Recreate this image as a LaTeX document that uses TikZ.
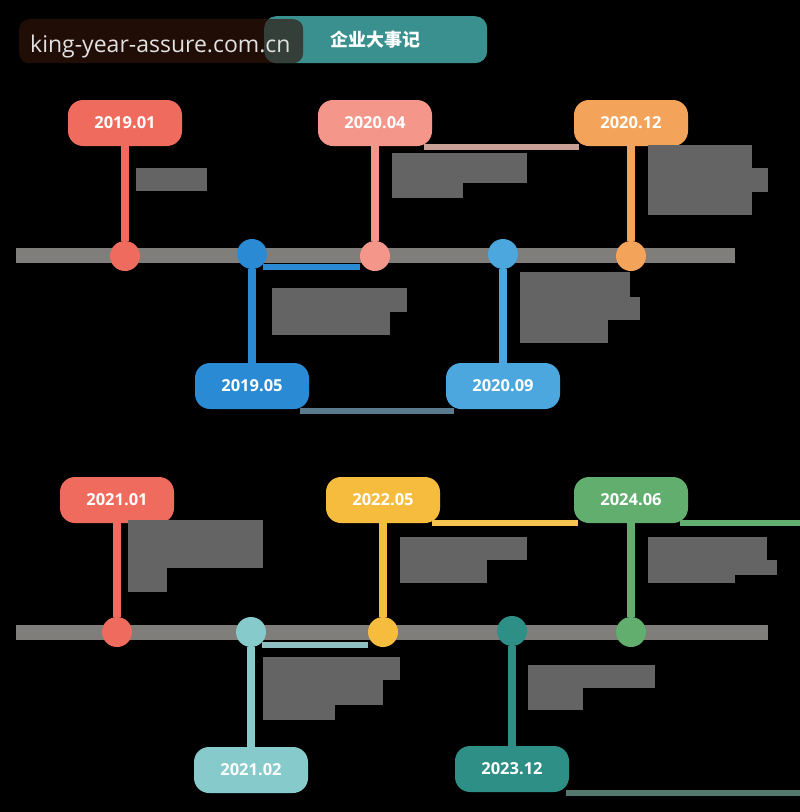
\documentclass[tikz,border=0pt]{standalone}
\usepackage{fontspec}
\setmainfont{Open Sans}
\newfontfamily\cjk{Noto Sans CJK SC}
\pgfdeclarelayer{back}
\pgfdeclarelayer{mid}
\pgfsetlayers{back,mid,main}
\definecolor{redA}{HTML}{EF6B5E}
\definecolor{blueA}{HTML}{2A8AD4}
\definecolor{salmonA}{HTML}{F4978A}
\definecolor{skyA}{HTML}{4BA7DD}
\definecolor{orangeA}{HTML}{F4A35A}
\definecolor{mintA}{HTML}{86CACB}
\definecolor{yellowA}{HTML}{F6BC3E}
\definecolor{tealA}{HTML}{2E8F86}
\definecolor{greenA}{HTML}{62AE6F}
\definecolor{pinkline}{HTML}{C9A096}
\definecolor{slateline}{HTML}{5A7A8E}
\definecolor{mintline}{HTML}{8FC0C1}
\definecolor{tealline}{HTML}{55786E}
\definecolor{axisgray}{HTML}{7F7E7B}
\definecolor{blankgray}{HTML}{646464}
\definecolor{titleteal}{HTML}{3A908E}
\definecolor{markbrown}{HTML}{30140A}
\definecolor{marktext}{HTML}{E2E0E0}
\tikzset{
  datebox/.style={fill=#1, rounded corners=15pt, minimum width=114pt,
    minimum height=46pt, inner sep=0pt, text=white,
    font=\bfseries\fontsize{16.5}{16.5}\selectfont},
  dot/.style={circle, fill=#1, minimum size=30pt, inner sep=0pt},
  stem/.style={draw=#1, line width=8pt},
  link/.style={draw=#1, line width=6pt},
  axis/.style={draw=axisgray, line width=15pt},
  blank/.style={fill=blankgray}
}
\begin{document}
\begin{tikzpicture}[x=1pt,y=-1pt]
  \useasboundingbox (0,0) rectangle (800,812);
  \begin{pgfonlayer}{back}
    \fill[black] (0,0) rectangle (800,812);
  \end{pgfonlayer}
  \node[fill=titleteal, rounded corners=12pt, minimum width=223pt, minimum height=47pt,
    anchor=north west, text=white, font=\cjk\bfseries\fontsize{18}{18}\selectfont] (title) at (264,16) {企业大事记};
  \node[fill=markbrown, fill opacity=0.65, rounded corners=10pt, minimum width=284pt,
    minimum height=44pt, anchor=north west] (mark) at (19,19) {};
  \node[anchor=base west, inner sep=0pt, text=marktext,
    font=\fontsize{23}{23}\selectfont] (marktext) at (30,52) {king-year-assure.com.cn};
  \draw
    (125,123) node[datebox=redA] (b1) {2019.01}
    (252,386) node[datebox=blueA] (b2) {2019.05}
    (375,123) node[datebox=salmonA] (b3) {2020.04}
    (503,386) node[datebox=skyA] (b4) {2020.09}
    (631,123) node[datebox=orangeA] (b5) {2020.12}
    (117,500) node[datebox=redA] (b6) {2021.01}
    (251,770) node[datebox=mintA] (b7) {2021.02}
    (383,500) node[datebox=yellowA] (b8) {2022.05}
    (512,769) node[datebox=tealA] (b9) {2023.12}
    (631,500) node[datebox=greenA] (b10) {2024.06};
  \draw
    (125,256) node[dot=redA] (d1) {}
    (252,254) node[dot=blueA] (d2) {}
    (375,256) node[dot=salmonA] (d3) {}
    (503,254) node[dot=skyA] (d4) {}
    (631,256) node[dot=orangeA] (d5) {}
    (117,632) node[dot=redA] (d6) {}
    (251,632) node[dot=mintA] (d7) {}
    (383,632) node[dot=yellowA] (d8) {}
    (512,631) node[dot=tealA] (d9) {}
    (631,632) node[dot=greenA] (d10) {};
  \coordinate (a1l) at (16,255.5);
  \coordinate (a1r) at (735,255.5);
  \coordinate (a2l) at (16,632);
  \coordinate (a2r) at (768,632);
  \coordinate (edge) at (800,0);
  \begin{pgfonlayer}{mid}
    \draw[axis] (a1l) to (a1r);
    \draw[axis] (a2l) to (a2r);
    \draw[link=blueA] ([yshift=-2pt]d2.south east) to ([yshift=-2pt]d2.south east -| d3.west);
    \draw[link=pinkline] ([xshift=-8pt,yshift=-1pt]b3.south east) to ([xshift=5pt,yshift=-1pt]b5.south west);
    \draw[link=slateline] ([xshift=-9pt,yshift=-2pt]b2.south east) to ([xshift=8pt,yshift=-2pt]b4.south west);
    \draw[link=mintline] ([yshift=-2pt]d7.south east) to ([yshift=-2pt]d7.south east -| d8.west);
    \draw[link=yellowA!90!white] ([xshift=-8pt]b8.south east) to ([xshift=4pt]b10.south west);
    \draw[link=greenA] ([xshift=-8pt]b10.south east) to (b10.south east -| edge);
    \draw[link=tealline] ([xshift=-3pt,yshift=-1pt]b9.south east) to ([yshift=-1pt]b9.south east -| edge);
    \draw[stem=redA] (b1) to (d1);
    \draw[stem=blueA] (b2) to (d2);
    \draw[stem=salmonA] (b3) to (d3);
    \draw[stem=skyA] (b4) to (d4);
    \draw[stem=orangeA] (b5) to (d5);
    \draw[stem=redA] (b6) to (d6);
    \draw[stem=mintA] (b7) to (d7);
    \draw[stem=yellowA] (b8) to (d8);
    \draw[stem=tealA] (b9) to (d9);
    \draw[stem=greenA] (b10) to (d10);
  \end{pgfonlayer}
  \begin{scope}[blank]
    \fill (136,168) rectangle (207,191);
    \fill (392,153) rectangle (527,183);
    \fill (392,183) rectangle (463,198);
    \fill (648,145) rectangle (752,215);
    \fill (752,168) rectangle (768,192);
    \fill (272,288) rectangle (407,312);
    \fill (272,312) rectangle (390,335);
    \fill (520,272) rectangle (630,297);
    \fill (520,297) rectangle (640,320);
    \fill (520,320) rectangle (608,343);
    \fill (128,520) rectangle (263,568);
    \fill (128,568) rectangle (167,592);
    \fill (263,657) rectangle (400,680);
    \fill (263,680) rectangle (383,705);
    \fill (263,705) rectangle (335,720);
    \fill (400,537) rectangle (527,560);
    \fill (400,560) rectangle (487,583);
    \fill (648,537) rectangle (767,560);
    \fill (648,560) rectangle (777,575);
    \fill (648,575) rectangle (735,583);
    \fill (528,665) rectangle (655,688);
    \fill (528,688) rectangle (583,710);
  \end{scope}
\end{tikzpicture}
\end{document}
